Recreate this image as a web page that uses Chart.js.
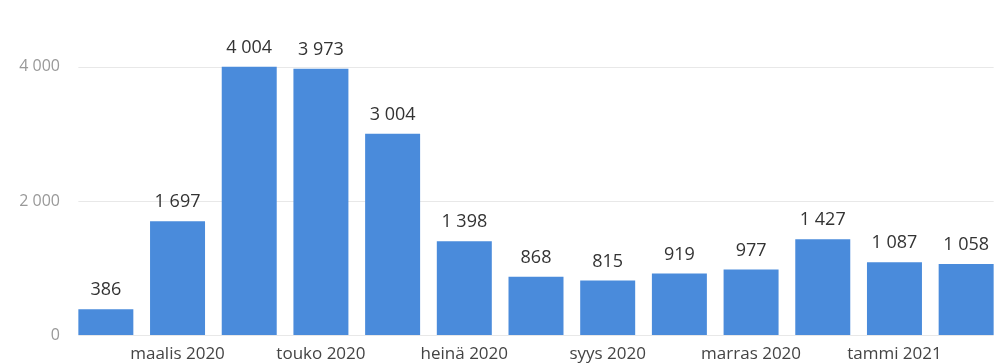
<!DOCTYPE html>
<html>
<head>
<meta charset="utf-8">
<script src="https://cdn.jsdelivr.net/npm/chart.js@4"></script>
<style>
  html, body { margin: 0; padding: 0; background: #fff; }
  #wrap { width: 1004px; height: 364px; }
</style>
</head>
<body>
<div id="wrap"><canvas id="chart"></canvas></div>
<script>
const months = ['helmi 2020', 'maalis 2020', 'huhti 2020', 'touko 2020', 'kesä 2020', 'heinä 2020',
  'elo 2020', 'syys 2020', 'loka 2020', 'marras 2020', 'joulu 2020', 'tammi 2021', 'helmi 2021'];
const counts = [386, 1697, 4004, 3973, 3004, 1398, 868, 815, 919, 977, 1427, 1087, 1058];
const yTicks = [0, 2000, 4000];

const fontFamily = '"Open Sans", "Noto Sans", sans-serif';

// numbers with space as thousands separator, like fi-FI
function fmt(n) {
  return String(n).replace(/\B(?=(\d{3})+(?!\d))/g, ' ');
}

// horizontal gridlines only across the bars
const gridLines = {
  id: 'gridLines',
  beforeDatasetsDraw(chart) {
    const ctx = chart.ctx;
    const bars = chart.getDatasetMeta(0).data;
    const first = bars[0], last = bars[bars.length - 1];
    const x0 = first.x - first.width / 2;
    const x1 = last.x + last.width / 2;
    const y = chart.scales.y;
    ctx.save();
    ctx.strokeStyle = '#e8e8e8';
    ctx.lineWidth = 1;
    yTicks.forEach(v => {
      const py = Math.round(y.getPixelForValue(v)) + 0.5;
      ctx.beginPath();
      ctx.moveTo(x0, py);
      ctx.lineTo(x1, py);
      ctx.stroke();
    });
    ctx.restore();
  }
};

// value labels above bars
const valueLabels = {
  id: 'valueLabels',
  afterDatasetsDraw(chart) {
    const ctx = chart.ctx;
    const meta = chart.getDatasetMeta(0);
    ctx.save();
    ctx.font = '18px ' + fontFamily;
    ctx.fillStyle = '#333';
    ctx.textAlign = 'center';
    ctx.textBaseline = 'bottom';
    meta.data.forEach((bar, i) => {
      ctx.fillText(fmt(counts[i]), bar.x, bar.y - 10);
    });
    ctx.restore();
  }
};

const ctx = document.getElementById('chart').getContext('2d');
new Chart(ctx, {
  type: 'bar',
  data: {
    labels: months,
    datasets: [{
      data: counts,
      backgroundColor: '#4a8bdb',
      barPercentage: 0.767,
      categoryPercentage: 1
    }]
  },
  options: {
    responsive: true,
    maintainAspectRatio: false,
    animation: false,
    layout: { padding: { left: 0, right: 2, top: 20, bottom: 0 } },
    plugins: {
      legend: { display: false },
      tooltip: { enabled: false }
    },
    scales: {
      x: {
        grid: { display: false },
        border: { display: false },
        ticks: {
          autoSkip: false,
          maxRotation: 0,
          padding: 1,
          color: '#444',
          font: { family: fontFamily, size: 17 },
          callback: function (value, index) {
            return index % 2 === 1 ? months[index] : '';
          }
        },
        afterFit(scale) { scale.height = 29; }
      },
      y: {
        min: 0,
        max: 4700,
        grid: { display: false, drawTicks: false },
        border: { display: false },
        afterBuildTicks(scale) {
          scale.ticks = yTicks.map(v => ({ value: v }));
        },
        ticks: {
          padding: 10,
          color: '#999',
          font: { family: fontFamily, size: 16 },
          callback: v => fmt(v)
        },
        afterFit(scale) { scale.width = 70; }
      }
    }
  },
  plugins: [gridLines, valueLabels]
});
</script>
</body>
</html>
